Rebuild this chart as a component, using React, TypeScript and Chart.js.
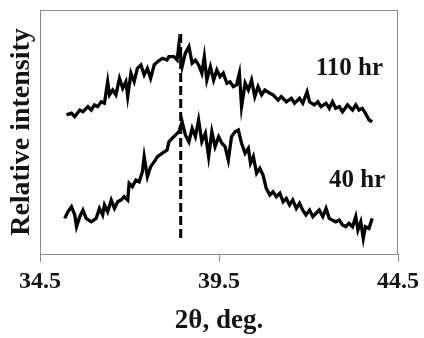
import { useEffect, useRef } from "react";
import { Chart, registerables } from "chart.js";

Chart.register(...registerables);

// X axis tick values (2θ, deg.)
const xTicks = [34.5, 39.5, 44.5];

// 110 hr pattern
const theta110 = [
  35.24, 35.38, 35.47, 35.61, 35.7, 35.84, 35.93, 36.02, 36.11, 36.21, 36.3, 36.39, 36.44, 36.53, 36.62,
  36.72, 36.81, 36.9, 36.95, 37.04, 37.13, 37.22, 37.32, 37.41, 37.5, 37.59, 37.69, 37.78, 37.92, 38.05,
  38.1, 38.24, 38.33, 38.38, 38.47, 38.56, 38.66, 38.75, 38.84, 38.93, 39.02, 39.09, 39.16, 39.26, 39.35,
  39.44, 39.53, 39.62, 39.72, 39.81, 39.9, 39.99, 40.07, 40.13, 40.23, 40.32, 40.41, 40.5, 40.59, 40.69,
  40.78, 40.92, 41.01, 41.15, 41.24, 41.38, 41.52, 41.61, 41.75, 41.84, 41.96, 42.03, 42.16, 42.26, 42.35,
  42.49, 42.58, 42.67, 42.76, 42.86, 42.95, 43.09, 43.23, 43.32, 43.41, 43.5, 43.59, 43.69, 43.78,
];
const intensity110 = [
  57.0, 57.7, 56.3, 59.0, 58.3, 60.4, 59.0, 61.1, 60.4, 62.4, 61.8, 70.6, 65.2, 67.2, 65.2,
  72.0, 67.9, 70.6, 64.5, 74.1, 70.6, 76.1, 77.5, 73.4, 76.1, 72.0, 77.5, 78.8, 80.2, 79.5,
  80.9, 80.9, 79.5, 85.7, 76.8, 82.3, 85.0, 78.2, 79.5, 77.5, 74.1, 80.9, 71.3, 76.8, 71.3,
  75.4, 72.7, 74.1, 70.0, 70.6, 68.6, 69.3, 74.1, 60.4, 70.0, 67.2, 71.3, 64.5, 68.6, 65.2,
  67.2, 65.9, 65.2, 63.1, 64.5, 62.4, 63.8, 61.8, 63.8, 61.8, 66.5, 62.4, 61.1, 62.4, 60.4,
  61.8, 59.7, 62.4, 59.7, 60.4, 58.3, 61.1, 59.0, 61.1, 59.0, 59.7, 57.7, 54.9, 54.2,
];

// 40 hr pattern
const theta40 = [
  35.19, 35.28, 35.38, 35.47, 35.52, 35.61, 35.7, 35.79, 35.93, 36.07, 36.16, 36.25, 36.3, 36.39, 36.49,
  36.58, 36.67, 36.76, 36.85, 36.95, 36.99, 37.08, 37.18, 37.27, 37.36, 37.41, 37.5, 37.59, 37.69, 37.78,
  37.92, 38.05, 38.1, 38.19, 38.29, 38.38, 38.47, 38.56, 38.66, 38.75, 38.84, 38.93, 39.02, 39.12, 39.21,
  39.3, 39.39, 39.49, 39.58, 39.67, 39.76, 39.85, 39.95, 40.04, 40.13, 40.23, 40.32, 40.38, 40.46, 40.55,
  40.64, 40.73, 40.82, 40.92, 41.01, 41.1, 41.2, 41.29, 41.38, 41.47, 41.56, 41.66, 41.75, 41.84, 41.93,
  42.03, 42.12, 42.21, 42.3, 42.4, 42.49, 42.58, 42.67, 42.76, 42.86, 42.95, 43.04, 43.13, 43.23, 43.32,
  43.38, 43.46, 43.53, 43.59, 43.69, 43.78,
];
const intensity40 = [
  14.6, 17.3, 19.4, 16.0, 11.2, 15.3, 18.0, 14.6, 13.2, 14.6, 18.7, 16.0, 20.1, 17.3, 22.1,
  18.7, 21.4, 22.1, 23.5, 22.1, 29.0, 27.6, 30.3, 29.6, 33.7, 39.9, 31.7, 35.8, 37.8, 39.9,
  41.3, 42.6, 46.0, 47.4, 48.8, 50.1, 54.2, 48.8, 46.0, 51.5, 48.1, 54.9, 46.0, 49.5, 39.9,
  50.1, 44.0, 48.1, 45.4, 44.0, 38.5, 48.1, 50.1, 50.8, 45.4, 41.3, 43.3, 37.2, 39.9, 33.1,
  35.1, 32.4, 26.9, 24.2, 25.5, 23.5, 24.9, 21.4, 22.8, 20.1, 22.1, 18.7, 20.8, 18.0, 16.0,
  18.0, 15.3, 16.7, 18.0, 15.3, 18.7, 14.6, 13.9, 13.2, 13.9, 11.9, 11.2, 12.6, 11.2, 15.3,
  9.8, 13.2, 6.4, 11.2, 10.5, 14.6,
];

// Dashed reference line (peak position)
const peakLineX = [38.43, 38.43];
const peakLineY = [6.6, 91.4];

// Curve labels
const curveLabels = ["110 hr", "40 hr"];
const curveLabelX = [43.14, 43.36];
const curveLabelY = [76.2, 30.3];

const FONT = '"Liberation Serif", "Times New Roman", serif';
const INK = "#141414";

export default function App() {
  const ref = useRef<HTMLCanvasElement>(null);

  useEffect(() => {
    const canvas = ref.current;
    if (!canvas) return;
    const pts = (xs: number[], ys: number[]) => xs.map((x, i) => ({ x, y: ys[i] }));

    const framePlugin = {
      id: "frameAndLabels",
      afterDraw(chart: any) {
        const { ctx, chartArea: a, scales } = chart;
        ctx.save();
        ctx.strokeStyle = "#8a8a8a";
        ctx.lineWidth = 1;
        ctx.strokeRect(a.left + 0.5, a.top + 0.5, a.right - a.left - 1, a.bottom - a.top);
        ctx.fillStyle = INK;
        ctx.font = "bold 25px " + FONT;
        ctx.textAlign = "center";
        ctx.textBaseline = "middle";
        curveLabels.forEach((t, i) => {
          ctx.fillText(t, scales.x.getPixelForValue(curveLabelX[i]), scales.y.getPixelForValue(curveLabelY[i]));
        });
        ctx.restore();
      },
    };

    const line = (data: { x: number; y: number }[]) => ({
      data,
      borderColor: "#000",
      borderWidth: 3.3,
      pointRadius: 0,
      tension: 0,
      borderJoinStyle: "miter" as const,
    });

    const chart = new Chart(canvas, {
      type: "line",
      data: {
        datasets: [
          { label: "110 hr", ...line(pts(theta110, intensity110)) },
          { label: "40 hr", ...line(pts(theta40, intensity40)) },
          {
            label: "peak",
            data: pts(peakLineX, peakLineY),
            borderColor: "#000",
            borderWidth: 3,
            borderDash: [9, 4],
            pointRadius: 0,
          },
        ],
      },
      options: {
        animation: false,
        responsive: false,
        devicePixelRatio: 1,
        layout: { padding: { top: 10, right: 23, left: 0, bottom: 0 } },
        plugins: { legend: { display: false }, tooltip: { enabled: false } },
        scales: {
          x: {
            type: "linear",
            min: 34.5,
            max: 44.5,
            afterBuildTicks: (s: any) => {
              s.ticks = xTicks.map((v) => ({ value: v }));
            },
            afterFit: (s: any) => {
              s.height = 84;
            },
            border: { display: false },
            grid: { drawOnChartArea: false, drawTicks: true, tickLength: 8, color: "#8a8a8a" },
            ticks: {
              font: { family: FONT, size: 24, weight: "bold" },
              color: INK,
              padding: 5,
              maxRotation: 0,
              callback: (v: any) => Number(v).toFixed(1),
            },
            title: {
              display: true,
              text: "2θ, deg.",
              font: { family: FONT, size: 27, weight: "bold" },
              color: INK,
              padding: { top: 0, bottom: 1 },
            },
          },
          y: {
            type: "linear",
            min: 0,
            max: 100,
            afterFit: (s: any) => {
              s.width = 40;
            },
            border: { display: false },
            grid: { display: false, drawTicks: false },
            ticks: { display: false },
            title: {
              display: true,
              text: "Relative intensity",
              font: { family: FONT, size: 28, weight: "bold" },
              color: INK,
              padding: { top: 5, bottom: 0 },
            },
          },
        },
      },
      plugins: [framePlugin],
    });
    return () => chart.destroy();
  }, []);

  return (
    <div style={{ position: "fixed", left: 0, top: 0, width: 424, height: 338, background: "#fff" }}>
      <canvas ref={ref} width={424} height={338} style={{ display: "block" }} />
    </div>
  );
}
